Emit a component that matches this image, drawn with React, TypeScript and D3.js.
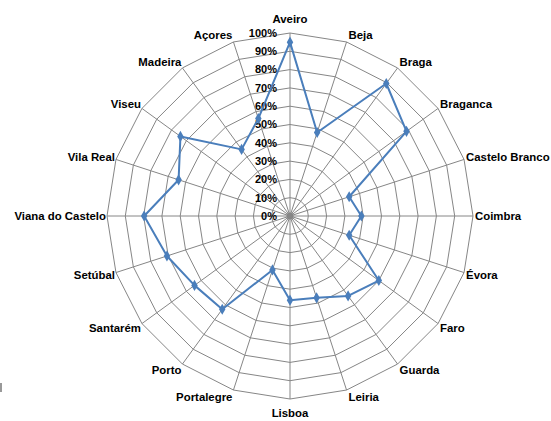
import React from "react";
import * as d3 from "d3";

const categories = [
  "Aveiro", "Beja", "Braga", "Braganca", "Castelo Branco", "Coimbra", "Évora",
  "Faro", "Guarda", "Leiria", "Lisboa", "Portalegre", "Porto", "Santarém",
  "Setúbal", "Viana do Castelo", "Vila Real", "Viseu", "Madeira", "Açores",
];
const values = [
  0.95, 0.48, 0.895, 0.787, 0.34, 0.39, 0.34, 0.60, 0.54, 0.47,
  0.46, 0.31, 0.63, 0.645, 0.707, 0.797, 0.64, 0.74, 0.45, 0.56,
];
const ticks = [0, 0.1, 0.2, 0.3, 0.4, 0.5, 0.6, 0.7, 0.8, 0.9, 1.0];

const W = 551;
const H = 421;
const CX = 290;
const CY = 216;
const R = 183;
const GRID = "#868686";
const SERIES = "#4A7EBB";
const FONT = "'Liberation Sans', Arial, sans-serif";

export default function App() {
  const n = categories.length;
  const angle = d3.scaleLinear().domain([0, n]).range([0, 2 * Math.PI]);
  const r = d3.scaleLinear().domain([0, 1]).range([0, R]);
  const pt = (i: number, v: number): [number, number] => {
    const a = angle(i);
    return [CX + r(v) * Math.sin(a), CY - r(v) * Math.cos(a)];
  };
  const ringPath = (v: number) =>
    d3.line()(d3.range(n + 1).map((i) => pt(i % n, v)));
  const seriesPath = d3.line()(
    values.concat([values[0]]).map((v, i) => pt(i % n, v))
  );
  const diamond = d3.symbol().type(d3.symbolDiamond).size(36)();

  return (
    <svg
      width={W}
      height={H}
      style={{ position: "absolute", left: 0, top: 0, background: "#fff" }}
    >
      <rect x={0} y={383} width={2} height={9} fill="#999" />
      {ticks.slice(1).map((t) => (
        <path key={t} d={ringPath(t) || ""} fill="none" stroke={GRID} strokeWidth={1} />
      ))}
      {categories.map((c, i) => {
        const [x, y] = pt(i, 1);
        return <line key={c} x1={CX} y1={CY} x2={x} y2={y} stroke={GRID} strokeWidth={1} />;
      })}
      <circle cx={CX} cy={CY} r={3.5} fill={GRID} />
      {ticks.map((t) => (
        <text
          key={"t" + t}
          x={277}
          y={CY - r(t)}
          dy="0.35em"
          textAnchor="end"
          fontFamily={FONT}
          fontWeight="bold"
          fontSize={11}
          fill="#000"
        >
          {d3.format(".0%")(t)}
        </text>
      ))}
      <path d={seriesPath || ""} fill="none" stroke={SERIES} strokeWidth={2} strokeLinejoin="round" />
      {values.map((v, i) => {
        const [x, y] = pt(i, v);
        return <path key={"m" + i} d={diamond || ""} transform={`translate(${x},${y})`} fill={SERIES} />;
      })}
      {categories.map((c, i) => {
        const a = angle(i);
        const [x, y] = pt(i, 1);
        const s = Math.sin(a);
        const co = Math.cos(a);
        const centered = Math.abs(s) < 0.01;
        const anchor = centered ? "middle" : s > 0 ? "start" : "end";
        const tx = centered ? x : x + (s > 0 ? 2 : -1);
        const ty = centered ? y - co * 14 : y - co * 7;
        return (
          <text
            key={"l" + c}
            x={tx}
            y={ty}
            dy="0.35em"
            textAnchor={anchor}
            fontFamily={FONT}
            fontWeight="bold"
            fontSize={11.4}
            fill="#000"
          >
            {c}
          </text>
        );
      })}
    </svg>
  );
}
